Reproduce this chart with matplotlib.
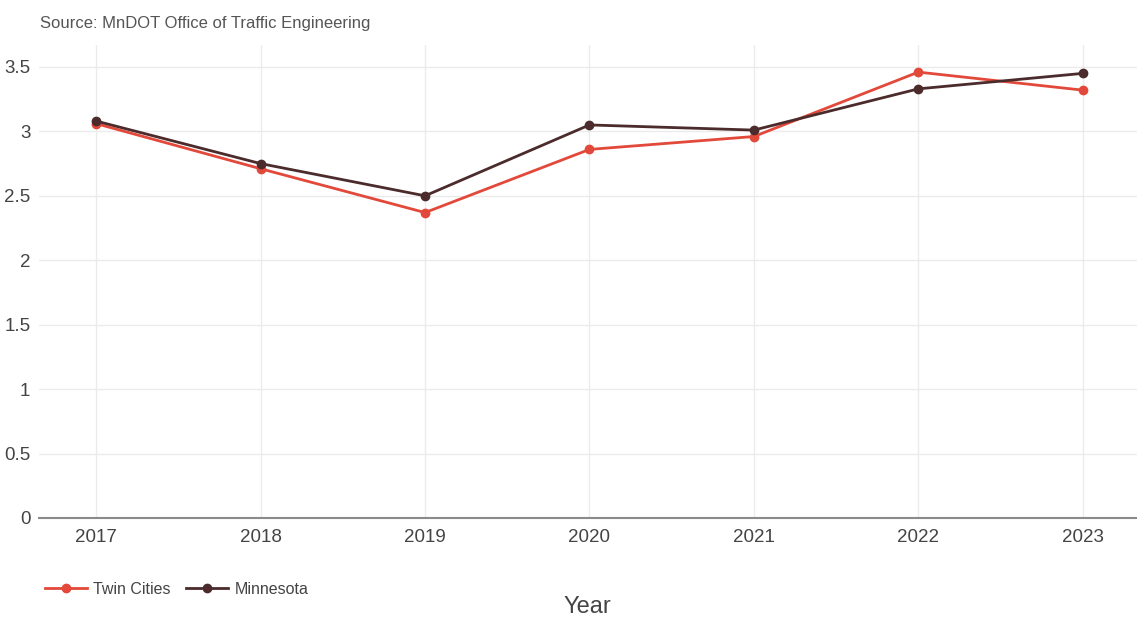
import matplotlib.pyplot as plt

years = [2017, 2018, 2019, 2020, 2021, 2022, 2023]
twin_cities = [3.06, 2.71, 2.37, 2.86, 2.96, 3.46, 3.32]
minnesota = [3.08, 2.75, 2.50, 3.05, 3.01, 3.33, 3.45]
y_ticks = [0, 0.5, 1, 1.5, 2, 2.5, 3, 3.5]
y_labels = ['0', '0.5', '1', '1.5', '2', '2.5', '3', '3.5']

plt.rcParams['font.family'] = ['Liberation Sans', 'DejaVu Sans']

fig = plt.figure(figsize=(11.37, 6.17), dpi=100)
ax = fig.add_axes([0.034, 0.1605, 0.966, 0.7665])

red = '#e2493a'
brown = '#4b2b2b'

ax.plot(years, twin_cities, color=red, lw=2, marker='o', ms=6, label='Twin Cities', zorder=3)
ax.plot(years, minnesota, color=brown, lw=2, marker='o', ms=6, label='Minnesota', zorder=3)

ax.set_xlim(2016.65, 2023.33)
ax.set_ylim(0, 3.67)
ax.set_xticks(years)
ax.set_xticklabels([str(y) for y in years])
ax.set_yticks(y_ticks)
ax.set_yticklabels(y_labels)

ax.grid(True, color='#ebebeb', lw=1)
ax.set_axisbelow(True)
for s in ['top', 'right', 'left']:
    ax.spines[s].set_visible(False)
ax.spines['bottom'].set_color('#8a8a8a')
ax.spines['bottom'].set_linewidth(1.5)

ax.tick_params(axis='x', length=0, pad=8, labelsize=13.5, labelcolor='#444444')
ax.tick_params(axis='y', length=0, pad=6, labelsize=13.5, labelcolor='#444444')

ax.set_xlabel('Year', fontsize=17, color='#444444', labelpad=36)

fig.text(0.035, 0.962, 'Source: MnDOT Office of Traffic Engineering',
         fontsize=12, color='#555555', va='center', ha='left')

ax.legend(loc='upper left', bbox_to_anchor=(0.0, -0.122), ncol=2, frameon=False,
          fontsize=11.5, handlelength=2.6, columnspacing=1.0, handletextpad=0.4,
          labelcolor='#444444', borderaxespad=0)

fig.savefig('out.png', dpi=100)
